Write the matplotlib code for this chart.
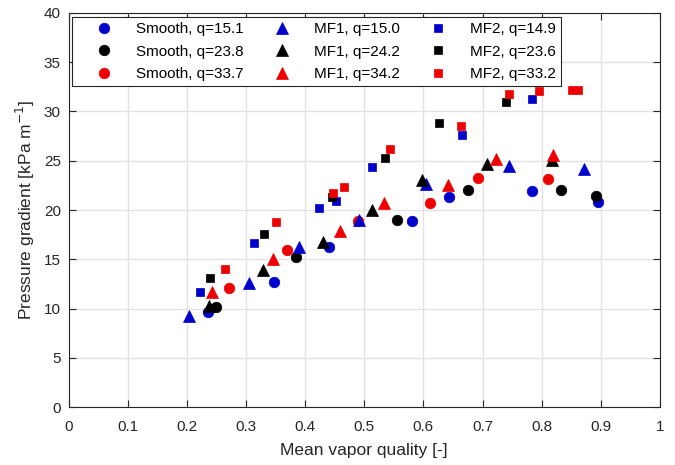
import matplotlib
matplotlib.use("Agg")
import matplotlib.pyplot as plt
from matplotlib.ticker import FormatStrFormatter

plt.rcParams['font.family'] = ['Liberation Sans', 'DejaVu Sans']

# ---- data ----
smooth151_x = [0.235, 0.348, 0.441, 0.580, 0.644, 0.784, 0.896]
smooth151_y = [9.6, 12.7, 16.25, 18.9, 21.3, 21.9, 20.8]
smooth238_x = [0.249, 0.384, 0.556, 0.676, 0.832, 0.892]
smooth238_y = [10.2, 15.25, 18.95, 22.05, 22.05, 21.45]
smooth337_x = [0.272, 0.369, 0.490, 0.611, 0.692, 0.811]
smooth337_y = [12.1, 15.95, 18.9, 20.7, 23.2, 23.15]

mf1_150_x = [0.203, 0.3055, 0.390, 0.4905, 0.604, 0.745, 0.871]
mf1_150_y = [9.2, 12.55, 16.2, 18.95, 22.65, 24.5, 24.15]
mf1_242_x = [0.238, 0.329, 0.431, 0.513, 0.598, 0.707, 0.817]
mf1_242_y = [10.3, 13.9, 16.8, 20.0, 23.05, 24.65, 25.1]
mf1_342_x = [0.242, 0.346, 0.459, 0.533, 0.642, 0.722, 0.8185]
mf1_342_y = [11.7, 15.0, 17.85, 20.75, 22.5, 25.2, 25.6]

mf2_149_x = [0.2225, 0.314, 0.424, 0.453, 0.5135, 0.666, 0.784]
mf2_149_y = [11.7, 16.6, 20.25, 20.95, 24.35, 27.6, 31.25]
mf2_236_x = [0.2395, 0.331, 0.446, 0.5355, 0.626, 0.740]
mf2_236_y = [13.05, 17.6, 21.35, 25.3, 28.8, 30.95]
mf2_332_x = [0.264, 0.3505, 0.447, 0.466, 0.544, 0.663, 0.745, 0.7955, 0.851, 0.861]
mf2_332_y = [14.05, 18.8, 21.75, 22.3, 26.2, 28.55, 31.75, 32.05, 32.15, 32.15]

labels = ["Smooth, q=15.1", "Smooth, q=23.8", "Smooth, q=33.7",
          "MF1, q=15.0", "MF1, q=24.2", "MF1, q=34.2",
          "MF2, q=14.9", "MF2, q=23.6", "MF2, q=33.2"]

x_ticks = [0, 0.1, 0.2, 0.3, 0.4, 0.5, 0.6, 0.7, 0.8, 0.9, 1]
y_ticks = [0, 5, 10, 15, 20, 25, 30, 35, 40]

BLUE = '#0000CD'
BLACK = '#000000'
RED = '#EE0000'

series = [
    (smooth151_x, smooth151_y, BLUE, 'o', 7.6),
    (smooth238_x, smooth238_y, BLACK, 'o', 7.6),
    (smooth337_x, smooth337_y, RED, 'o', 7.6),
    (mf1_150_x, mf1_150_y, BLUE, '^', 8.0),
    (mf1_242_x, mf1_242_y, BLACK, '^', 8.0),
    (mf1_342_x, mf1_342_y, RED, '^', 8.0),
    (mf2_149_x, mf2_149_y, BLUE, 's', 5.8),
    (mf2_236_x, mf2_236_y, BLACK, 's', 5.8),
    (mf2_332_x, mf2_332_y, RED, 's', 5.8),
]

fig = plt.figure(figsize=(6.75, 4.65), dpi=100)
ax = fig.add_axes([68.5 / 675, 1 - 407 / 465, (660 - 68.5) / 675, (407 - 13) / 465])

for (xs, ys, c, m, ms), lab in zip(series, labels):
    ax.plot(xs, ys, linestyle='none', marker=m, markersize=ms,
            color=c, markeredgecolor=c, markeredgewidth=0.5, label=lab)

ax.set_xlim(0, 1)
ax.set_ylim(0, 40)
ax.set_xticks(x_ticks)
ax.set_yticks(y_ticks)
ax.xaxis.set_major_formatter(FormatStrFormatter('%g'))
ax.yaxis.set_major_formatter(FormatStrFormatter('%g'))
ax.grid(True, color='#e3e3e3', linewidth=1.0)
ax.set_axisbelow(True)
ax.tick_params(direction='in', top=True, right=True, length=5, width=0.8,
               labelsize=11, colors='#262626', labelcolor='#262626')
ax.tick_params(axis='x', pad=9)
ax.tick_params(axis='y', pad=5.5)
for s in ax.spines.values():
    s.set_color('#262626')
    s.set_linewidth(0.8)

ax.set_xlabel('Mean vapor quality [-]', fontsize=12.5, color='#262626', labelpad=7)
ax.set_ylabel('Pressure gradient [kPa m$^{-1}$]', fontsize=12.5, color='#262626', labelpad=5)

leg = ax.legend(loc='upper left', ncol=3, fontsize=11, frameon=True, fancybox=False,
                edgecolor='#262626', framealpha=1, borderaxespad=0.25,
                handlelength=3.4, handletextpad=0.4, columnspacing=0.8,
                labelspacing=0.55, borderpad=0.35, numpoints=1)
leg.get_frame().set_linewidth(0.8)

fig.savefig('out.png', dpi=100)
